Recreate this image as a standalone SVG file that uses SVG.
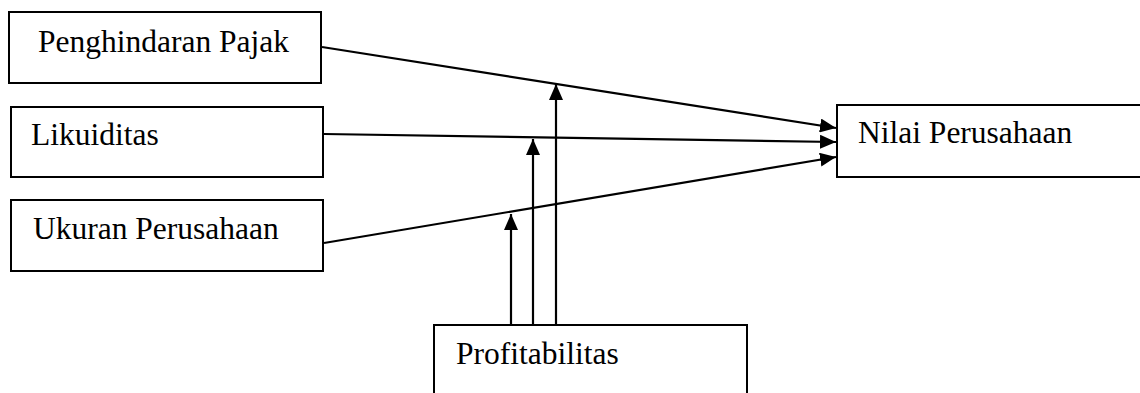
<svg xmlns="http://www.w3.org/2000/svg" width="1140" height="393" viewBox="0 0 1140 393">
<style>
.box{fill:#fff;stroke:#000;stroke-width:2}
.lbl{font-family:"Liberation Serif","Times New Roman",serif;font-size:31.5px;fill:#000}
.ln{stroke:#000;stroke-width:2.2;fill:none}
</style>
<defs>
<marker id="ah" markerUnits="userSpaceOnUse" markerWidth="16" markerHeight="14" refX="16" refY="7" orient="auto">
<path d="M0,0 L16,7 L0,14 Z" fill="#000"/>
</marker>
</defs>
<g id="penghindaran"><rect class="box" x="9" y="12" width="312" height="71"/><text class="lbl" x="38" y="52">Penghindaran Pajak</text></g>
<g id="likuiditas"><rect class="box" x="11" y="107" width="312" height="70"/><text class="lbl" x="31" y="145">Likuiditas</text></g>
<g id="ukuran"><rect class="box" x="11" y="200" width="312" height="71"/><text class="lbl" x="33" y="239">Ukuran Perusahaan</text></g>
<g id="nilai"><rect class="box" x="837" y="105" width="306" height="72"/><text class="lbl" x="858" y="143">Nilai Perusahaan</text></g>
<g id="profitabilitas"><rect class="box" x="434" y="325" width="313" height="80"/><text class="lbl" x="456" y="364">Profitabilitas</text></g>
<g id="connectors">
<line class="ln" x1="322" y1="47" x2="836" y2="128" marker-end="url(#ah)"/>
<line class="ln" x1="324" y1="134" x2="836" y2="142" marker-end="url(#ah)"/>
<line class="ln" x1="324" y1="243" x2="836" y2="157" marker-end="url(#ah)"/>
<line class="ln" x1="556" y1="325" x2="556" y2="84" marker-end="url(#ah)"/>
<line class="ln" x1="533" y1="325" x2="533" y2="139" marker-end="url(#ah)"/>
<line class="ln" x1="511" y1="325" x2="511" y2="214" marker-end="url(#ah)"/>
</g>
</svg>
